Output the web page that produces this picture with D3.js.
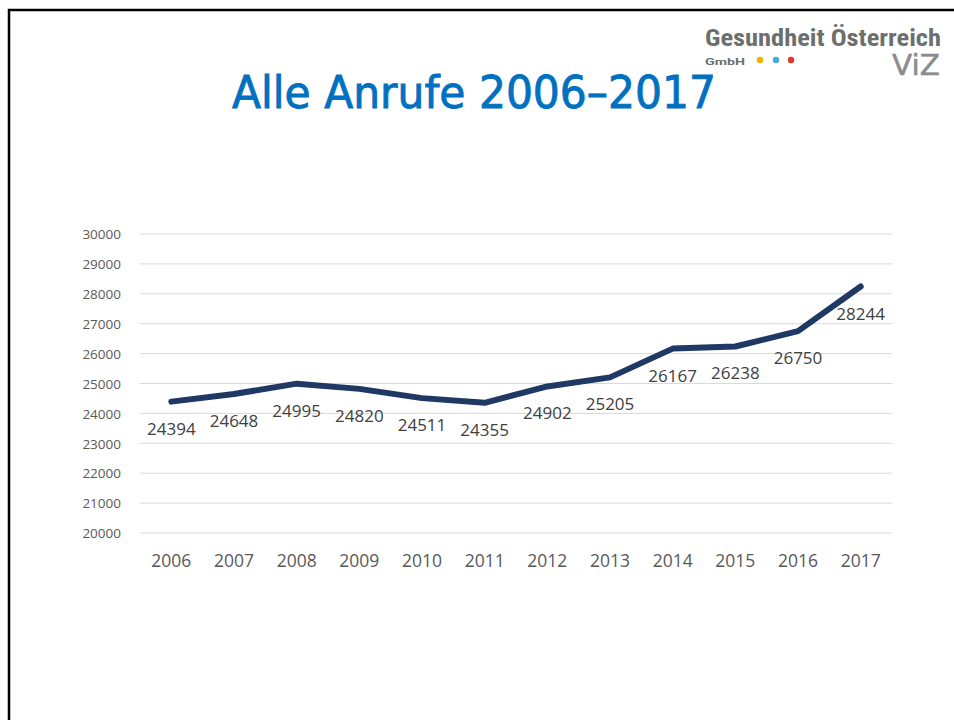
<!DOCTYPE html>
<html><head><meta charset="utf-8">
<script src="https://cdn.jsdelivr.net/npm/d3@7"></script>
<style>body{margin:0;background:#fff}svg{display:block}</style>
</head><body>
<svg id="c" width="954" height="720"></svg>
<script>
const years = ["2006","2007","2008","2009","2010","2011","2012","2013","2014","2015","2016","2017"];
const calls = [24394,24648,24995,24820,24511,24355,24902,25205,26167,26238,26750,28244];
const yTicks = [20000,21000,22000,23000,24000,25000,26000,27000,28000,29000,30000];
const titleText = "Alle Anrufe 2006–2017";

const svg = d3.select("#c");
// slide border
svg.append("path").attr("d","M9,720 V10 H954").attr("fill","none").attr("stroke","#000").attr("stroke-width",2.5);

const x = d3.scaleBand().domain(years).range([140,892]);
const y = d3.scaleLinear().domain([20000,30000]).range([533,234]);

// gridlines
svg.append("g").selectAll("line").data(yTicks).join("line")
  .attr("x1",140).attr("x2",892).attr("y1",d=>y(d)).attr("y2",d=>y(d))
  .attr("stroke","#d9d9d9").attr("stroke-width",1);

const yAxis = svg.append("g").attr("transform","translate(130,0)")
  .call(d3.axisLeft(y).tickValues(yTicks).tickSize(0).tickPadding(0).tickFormat(d3.format("d")));
yAxis.select(".domain").remove();
yAxis.selectAll("text").attr("font-family","Open Sans, sans-serif").attr("font-size",13.5).attr("fill","#595959").attr("x",-9).attr("dy","0.35em");

const xAxis = svg.append("g").attr("transform","translate(0,533)")
  .call(d3.axisBottom(x).tickSize(0).tickPadding(0));
xAxis.select(".domain").remove();
xAxis.selectAll("text").attr("font-family","Open Sans, sans-serif").attr("font-size",17.5).attr("fill","#595959").attr("y",34).attr("dy",0);

const cx = d => x(d) + x.bandwidth()/2;
const line = d3.line().x((d,i)=>cx(years[i])).y(d=>y(d));
svg.append("path").datum(calls).attr("d",line).attr("fill","none")
  .attr("stroke","#203864").attr("stroke-width",6).attr("stroke-linejoin","round").attr("stroke-linecap","round");

svg.append("g").selectAll("text").data(calls).join("text")
  .attr("x",(d,i)=>cx(years[i])).attr("y",d=>y(d)+33)
  .attr("text-anchor","middle").attr("font-family","Open Sans, sans-serif").attr("font-size",17).attr("fill","#404040")
  .text(d=>d);

// title
svg.append("text").attr("x",474).attr("y",108).attr("text-anchor","middle")
  .attr("font-family","DejaVu Sans, sans-serif").attr("font-size",44).attr("fill","#0070c0")
  .attr("stroke","#0070c0").attr("stroke-width",0.9)
  .attr("textLength",484).attr("lengthAdjust","spacingAndGlyphs").text(titleText);

// logo
const logo = svg.append("g");
logo.append("text").attr("x",705).attr("y",46).attr("font-family","Roboto Condensed, Roboto, sans-serif").attr("font-weight","bold")
  .attr("font-size",23).attr("fill","#6b6f6e").attr("textLength",236).attr("lengthAdjust","spacingAndGlyphs").text("Gesundheit Österreich");
logo.append("text").attr("x",705).attr("y",65).attr("font-family","Roboto, sans-serif").attr("font-weight","bold")
  .attr("font-size",9).attr("fill","#6b6f6e").attr("textLength",40).attr("lengthAdjust","spacingAndGlyphs").text("GmbH");
[["#f0b400",760],["#4aa8d8",776],["#e8342a",791]].forEach(([c,px])=>{
  logo.append("circle").attr("cx",px).attr("cy",60).attr("r",3.2).attr("fill",c);
});
logo.append("text").attr("x",940).attr("y",75).attr("text-anchor","end").attr("font-family","DejaVu Sans, sans-serif")
  .attr("font-size",28).attr("fill","#8a8c8e").attr("stroke","#8a8c8e").attr("stroke-width",0.5)
  .attr("textLength",48).attr("lengthAdjust","spacingAndGlyphs").text("ViZ");
</script>
</body></html>
